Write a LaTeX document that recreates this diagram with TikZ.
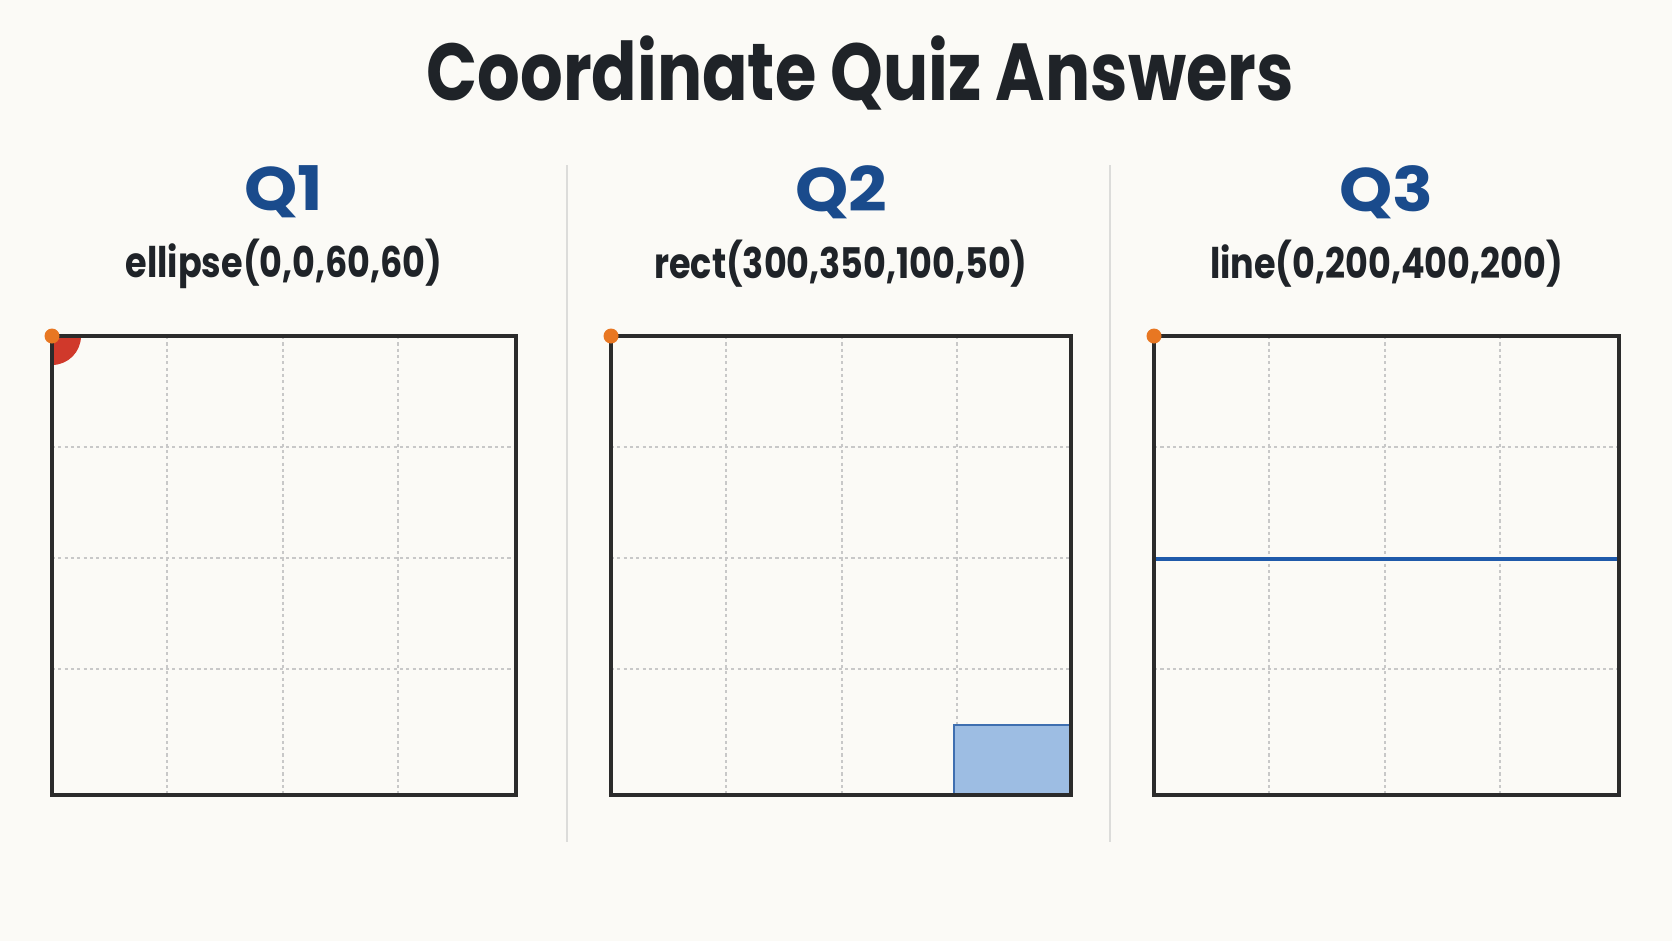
\documentclass[tikz,border=0pt]{standalone}
\usepackage{fontspec}
\setmainfont{Poppins}
\definecolor{paper}{RGB}{251,250,246}
\definecolor{ink}{RGB}{31,35,40}
\definecolor{qblue}{RGB}{26,75,140}
\definecolor{frame}{RGB}{43,43,43}
\definecolor{gridgray}{RGB}{200,200,200}
\definecolor{rulegray}{RGB}{220,220,218}
\definecolor{dotorange}{RGB}{232,119,34}
\definecolor{shapered}{RGB}{208,57,43}
\definecolor{rectblue}{RGB}{157,189,227}
\definecolor{rectedge}{RGB}{63,111,176}
\definecolor{lineblue}{RGB}{31,90,170}

\begin{document}
\begin{tikzpicture}[x=0.02cm,y=-0.02cm,
    title/.style={font=\fontsize{46}{50}\selectfont\bfseries,text=ink,xscale=0.83},
    qlabel/.style={font=\fontsize{35}{38}\selectfont\bfseries,text=qblue,xscale=1.1},
    call/.style={font=\fontsize{24}{28}\selectfont\bfseries,text=ink,xscale=0.83},
    canvas/.style={draw=frame,line width=2.6pt},
    gridline/.style={draw=gridgray,line width=1.1pt,dash pattern=on 1.8pt off 1.8pt},
    divider/.style={draw=rulegray,line width=1.2pt},
    origin/.style={circle,fill=dotorange,inner sep=0pt,minimum size=0.3cm}]
\fill[paper] (0,0) rectangle (1672,941);
\useasboundingbox (0,0) rectangle (1672,941);

\node[title] (head) at (860,73) {Coordinate Quiz Answers};

% dividers between the panels
\coordinate (d1t) at (567,165);
\coordinate (d1b) at (567,842);
\coordinate (d2t) at (1110,165);
\coordinate (d2b) at (1110,842);
\draw[divider] (d1t) -- (d1b);
\draw[divider] (d2t) -- (d2b);

% panels: left edge / width / number / call
\foreach \x/\w/\n/\txt in {52/464/1/{ellipse(0,0,60,60)},
                           611/460/2/{rect(300,350,100,50)},
                           1154/465/3/{line(0,200,400,200)}} {
    \coordinate (tl\n) at (\x,336);
    \coordinate (br\n) at (\x+\w,795);
    \node[qlabel] (q\n) at (\x+\w/2,192) {Q\n};
    \node[call] (c\n) at (\x+\w/2,264) {\txt};
    \foreach \k in {1,2,3} {
        \draw[gridline] (\x+115.3*\k,336) -- (\x+115.3*\k,795);
        \draw[gridline] (\x,336+111*\k) -- (\x+\w,336+111*\k);
    }
}

% answer shapes
\begin{scope}
    \clip (tl1) rectangle (br1);
    \fill[shapered] (tl1) circle[radius=29];
\end{scope}
\filldraw[fill=rectblue,draw=rectedge,line width=0.6pt] (954,725) rectangle (br2);
\coordinate (ls) at (1154,559);
\coordinate (le) at (1619,559);
\draw[lineblue,line width=2.6pt] (ls) -- (le);

\foreach \n in {1,2,3} {
    \draw[canvas] (tl\n) rectangle (br\n);
    \node[origin] (o\n) at (tl\n) {};
}
\end{tikzpicture}
\end{document}
